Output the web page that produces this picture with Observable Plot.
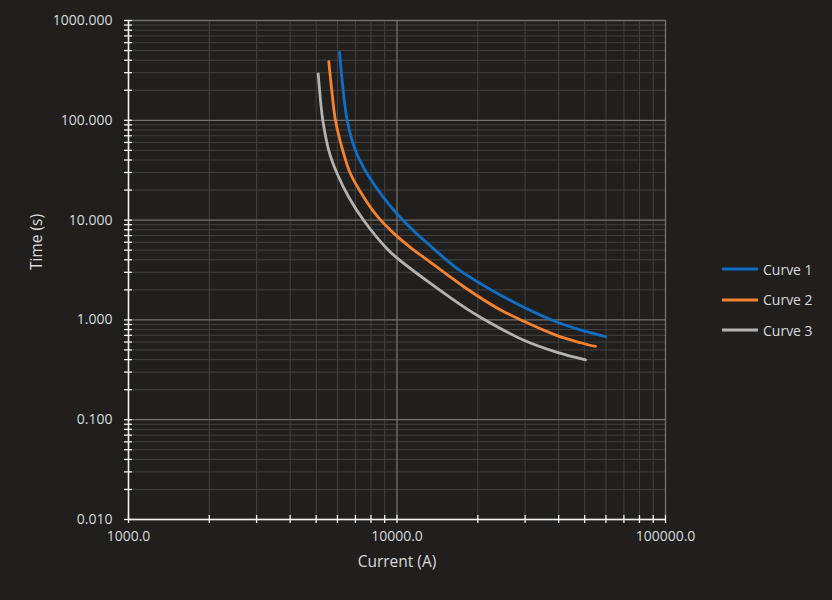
<!DOCTYPE html>
<html>
<head>
<meta charset="utf-8">
<script src="https://cdn.jsdelivr.net/npm/d3@7"></script>
<script src="https://cdn.jsdelivr.net/npm/@observablehq/plot@0.6"></script>
<style>
  html, body { margin: 0; padding: 0; background: #201f1e; }
  #wrap { position: relative; width: 832px; height: 600px; background: #201f1e; overflow: hidden; font-family: "Open Sans", sans-serif; }
  #chart { position: absolute; left: 0; top: 0; }
  .legend { position: absolute; left: 722px; top: 254px; color: #d9d9d9; font-size: 14px; }
  .item { display: flex; align-items: center; height: 30.5px; }
  .item svg { margin-right: 5px; }
</style>
</head>
<body>
<div id="wrap">
  <div id="chart"></div>
  <div class="legend" id="legend"></div>
</div>
<script>
// Series names and colours
const seriesNames = ["Curve 1", "Curve 2", "Curve 3"];
const seriesColors = ["#0f6fc6", "#f5822f", "#b3b3b3"];

// Curve 1 (current in A, time in s)
const curve1I = [6107, 6303, 6524, 7004, 7745, 8929, 10017, 11550, 13710, 16760, 22290, 29680, 39500, 49630, 59770];
const curve1T = [481, 198.9, 99.5, 49.8, 29.1, 16.71, 11.51, 7.78, 5.15, 3.27, 2.02, 1.337, 0.948, 0.776, 0.679];

// Curve 2
const curve2I = [5572, 5737, 5902, 6282, 6712, 7522, 8440, 9730, 11390, 13330, 17740, 23940, 29680, 39500, 48240, 54860];
const curve2T = [388, 181.6, 99.5, 49.8, 29.1, 16.96, 10.96, 7.36, 5.16, 3.78, 2.15, 1.288, 0.968, 0.695, 0.590, 0.542];

// Curve 3
const curve3I = [5087, 5220, 5293, 5572, 5988, 6615, 7522, 9194, 10017, 13330, 18260, 20460, 29680, 39500, 50350];
const curve3T = [292, 134.9, 99.5, 49.8, 29.1, 16.96, 9.91, 5.14, 4.16, 2.32, 1.28, 1.062, 0.625, 0.473, 0.398];

// Axis ticks
const xMajor = [1000, 10000, 100000];
const xMinor = [2000, 3000, 4000, 5000, 6000, 7000, 8000, 9000,
                20000, 30000, 40000, 50000, 60000, 70000, 80000, 90000];
const yMajor = [0.01, 0.1, 1, 10, 100, 1000];
const yMinor = [0.02, 0.03, 0.04, 0.05, 0.06, 0.07, 0.08, 0.09,
                0.2, 0.3, 0.4, 0.5, 0.6, 0.7, 0.8, 0.9,
                2, 3, 4, 5, 6, 7, 8, 9,
                20, 30, 40, 50, 60, 70, 80, 90,
                200, 300, 400, 500, 600, 700, 800, 900];

const xTitle = "Current (A)";
const yTitle = "Time (s)";

const curves = [[curve1I, curve1T], [curve2I, curve2T], [curve3I, curve3T]];
const data = [];
curves.forEach(([I, T], k) => I.forEach((v, i) => data.push({series: seriesNames[k], I: v, t: T[i]})));

const chart = Plot.plot({
  width: 832,
  height: 600,
  marginLeft: 128,
  marginRight: 167,
  marginTop: 20,
  marginBottom: 81,
  style: {background: "transparent", color: "#d9d9d9", fontFamily: "'Open Sans', sans-serif", fontSize: "14px"},
  x: {type: "log", domain: [1000, 100000]},
  y: {type: "log", domain: [0.01, 1000]},
  color: {domain: seriesNames, range: seriesColors},
  marks: [
    Plot.ruleX(xMinor, {stroke: "#41403f", strokeWidth: 1}),
    Plot.ruleY(yMinor, {stroke: "#41403f", strokeWidth: 1}),
    Plot.ruleX(xMajor, {stroke: "#737271", strokeWidth: 1.3}),
    Plot.ruleY(yMajor, {stroke: "#737271", strokeWidth: 1.3}),
    Plot.line(data, {x: "I", y: "t", z: "series", stroke: "series", strokeWidth: 2.8, curve: "catmull-rom"}),
    Plot.ruleX([1000], {stroke: "#f2f2f2", strokeWidth: 1.5}),
    Plot.ruleY([0.01], {stroke: "#f2f2f2", strokeWidth: 1.5}),
    Plot.axisY({ticks: [...yMajor, ...yMinor], tickSize: 8, dx: 4, tickFormat: () => "", label: null, stroke: "#f2f2f2", strokeWidth: 1.3}),
    Plot.axisX({ticks: [...xMajor, ...xMinor], tickSize: 8, dy: -4, tickFormat: () => "", label: null, stroke: "#f2f2f2", strokeWidth: 1.3}),
    Plot.axisY({ticks: yMajor, tickSize: 0, tickPadding: 16, tickFormat: d => d.toFixed(3), label: null, fontSize: 14}),
    Plot.axisX({ticks: xMajor, tickSize: 0, tickPadding: 12, tickFormat: d => d.toFixed(1), label: null, fontSize: 14}),
    Plot.text([yTitle], {frameAnchor: "left", dx: -91, rotate: -90, fontSize: 15.5, fill: "#d9d9d9"}),
    Plot.text([xTitle], {frameAnchor: "bottom", dy: 47, fontSize: 15.5, fill: "#d9d9d9"})
  ]
});
document.getElementById("chart").appendChild(chart);

const legend = document.getElementById("legend");
seriesNames.forEach((name, i) => {
  const item = document.createElement("div");
  item.className = "item";
  item.innerHTML = `<svg width="36" height="6"><line x1="0" x2="36" y1="3" y2="3" stroke="${seriesColors[i]}" stroke-width="3"/></svg><span>${name}</span>`;
  legend.appendChild(item);
});
</script>
</body>
</html>
